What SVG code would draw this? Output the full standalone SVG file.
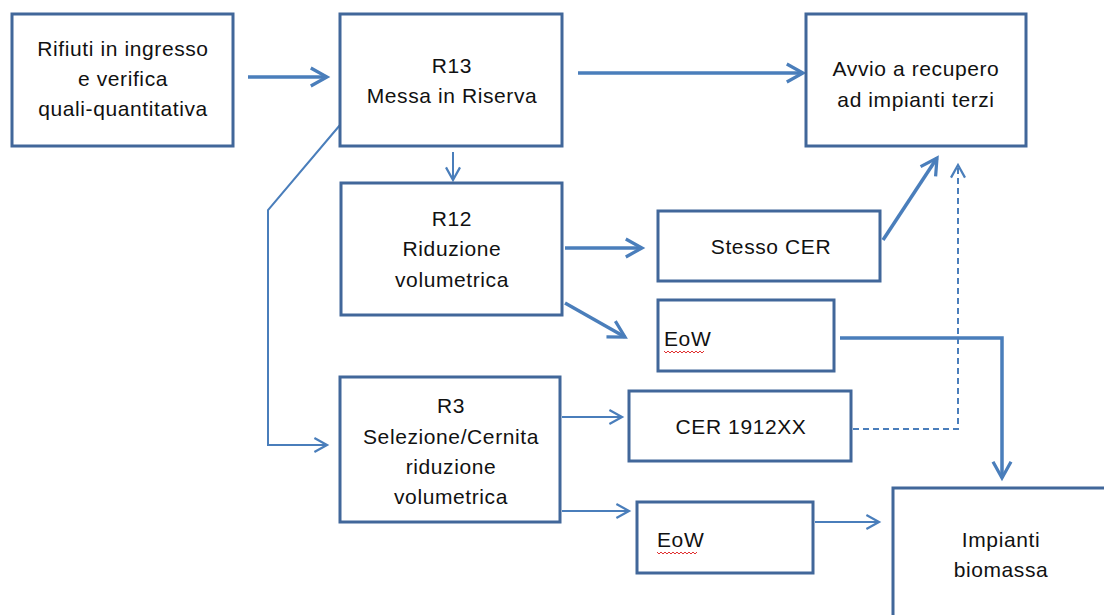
<svg xmlns="http://www.w3.org/2000/svg" width="1104" height="615" viewBox="0 0 1104 615">
<style>
.box{fill:#fff;stroke:#41679a;stroke-width:3}
.t{font-family:"Liberation Sans",Arial,sans-serif;font-size:21px;letter-spacing:0.6px;fill:#111;text-anchor:middle}
.tl{font-family:"Liberation Sans",Arial,sans-serif;font-size:21px;letter-spacing:0.6px;fill:#111}
.thick{fill:none;stroke:#4a7ebb;stroke-width:3.5}
.thin{fill:none;stroke:#4a7ebb;stroke-width:2}
.dash{fill:none;stroke:#4a7ebb;stroke-width:2;stroke-dasharray:6 4}
.wavy{fill:none;stroke:#e03030;stroke-width:1}
</style>
<defs>
<marker id="ah" viewBox="0 0 10 10" refX="9" refY="5" markerWidth="14" markerHeight="16" markerUnits="userSpaceOnUse" orient="auto" overflow="visible">
<path d="M0,0 L9,5 L0,10" fill="none" stroke="#4a7ebb" stroke-width="1.6"/>
</marker>
<marker id="aht" viewBox="0 0 10 10" refX="9" refY="5" markerWidth="18" markerHeight="20" markerUnits="userSpaceOnUse" orient="auto" overflow="visible">
<path d="M0,0 L9,5 L0,10" fill="none" stroke="#4a7ebb" stroke-width="1.8"/>
</marker>
</defs>
<g id="connectors">
<line class="thick" x1="248" y1="77" x2="327" y2="77" marker-end="url(#aht)"/>
<line class="thick" x1="578" y1="73" x2="803" y2="73" marker-end="url(#aht)"/>
<line class="thin" x1="453" y1="152" x2="453" y2="180" marker-end="url(#ah)"/>
<polyline class="thin" points="340,125 268,210 268,445 327,445" marker-end="url(#ah)"/>
<line class="thick" x1="565" y1="248" x2="642" y2="248" marker-end="url(#aht)"/>
<line class="thick" x1="565" y1="303" x2="625" y2="337" marker-end="url(#aht)"/>
<line class="thick" x1="883" y1="240" x2="937" y2="158" marker-end="url(#aht)"/>
<polyline class="thick" points="840,338 1002,338 1002,478" marker-end="url(#aht)"/>
<polyline class="dash" points="853,429 958,429 958,165" marker-end="url(#ah)"/>
<line class="thin" x1="562" y1="417" x2="622" y2="417" marker-end="url(#ah)"/>
<line class="thin" x1="562" y1="511" x2="629" y2="511" marker-end="url(#ah)"/>
<line class="thin" x1="815" y1="522" x2="879" y2="522" marker-end="url(#ah)"/>
</g>
<g id="n-rifiuti">
<rect class="box" x="12" y="14" width="221" height="132"/>
<text class="t" x="123" y="56">Rifiuti in ingresso</text>
<text class="t" x="123" y="86">e verifica</text>
<text class="t" x="123" y="116">quali-quantitativa</text>
</g>
<g id="n-r13">
<rect class="box" x="340" y="14" width="222" height="132"/>
<text class="t" x="452" y="73">R13</text>
<text class="t" x="452" y="103">Messa in Riserva</text>
</g>
<g id="n-avvio">
<rect class="box" x="806" y="14" width="220" height="132"/>
<text class="t" x="916" y="76">Avvio a recupero</text>
<text class="t" x="916" y="107">ad impianti terzi</text>
</g>
<g id="n-r12">
<rect class="box" x="341" y="183" width="221" height="132"/>
<text class="t" x="452" y="226">R12</text>
<text class="t" x="452" y="256">Riduzione</text>
<text class="t" x="452" y="287">volumetrica</text>
</g>
<g id="n-stesso">
<rect class="box" x="658" y="211" width="222" height="70"/>
<text class="t" x="771" y="254">Stesso CER</text>
</g>
<g id="n-eow1">
<rect class="box" x="658" y="300" width="176" height="71"/>
<text class="tl" x="664" y="346">EoW</text>
<path class="wavy" d="M664,351 l2,2 l2,-2 l2,2 l2,-2 l2,2 l2,-2 l2,2 l2,-2 l2,2 l2,-2 l2,2 l2,-2 l2,2 l2,-2 l2,2 l2,-2 l2,2 l2,-2 l2,2 l2,-2"/>
</g>
<g id="n-r3">
<rect class="box" x="340" y="377" width="220" height="145"/>
<text class="t" x="451" y="413">R3</text>
<text class="t" x="451" y="444">Selezione/Cernita</text>
<text class="t" x="451" y="474">riduzione</text>
<text class="t" x="451" y="504">volumetrica</text>
</g>
<g id="n-cer">
<rect class="box" x="629" y="391" width="222" height="70"/>
<text class="t" x="741" y="434">CER 1912XX</text>
</g>
<g id="n-eow2">
<rect class="box" x="637" y="502" width="176" height="71"/>
<text class="tl" x="657" y="547">EoW</text>
<path class="wavy" d="M657,552 l2,2 l2,-2 l2,2 l2,-2 l2,2 l2,-2 l2,2 l2,-2 l2,2 l2,-2 l2,2 l2,-2 l2,2 l2,-2 l2,2 l2,-2 l2,2 l2,-2 l2,2 l2,-2"/>
</g>
<g id="n-biomassa">
<rect class="box" x="893" y="488" width="230" height="150"/>
<text class="t" x="1001" y="547">Impianti</text>
<text class="t" x="1001" y="577">biomassa</text>
</g>
</svg>
